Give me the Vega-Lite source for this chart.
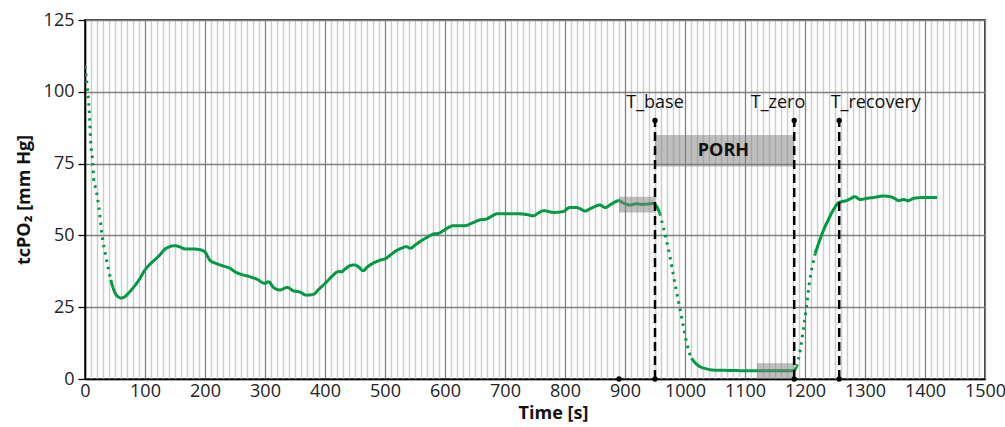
{
  "$schema": "https://vega.github.io/schema/vega-lite/v6.json",
  "autosize": "none",
  "width": 900,
  "height": 359,
  "padding": {"left": 85, "top": 20, "right": 20, "bottom": 48},
  "config": {
    "font": "Open Sans",
    "view": {"stroke": "#000000", "strokeWidth": 1.5},
    "axis": {"labelFont": "Open Sans", "titleFont": "Open Sans"}
  },
  "datasets": {
    "curve": [
      {"t": 0, "v": 109, "seg": "A", "style": "dotted"},
      {"t": 4, "v": 101, "seg": "A", "style": "dotted"},
      {"t": 7, "v": 93.7, "seg": "A", "style": "dotted"},
      {"t": 9.5, "v": 82.6, "seg": "A", "style": "dotted"},
      {"t": 13, "v": 75.2, "seg": "A", "style": "dotted"},
      {"t": 15, "v": 68.5, "seg": "A", "style": "dotted"},
      {"t": 17, "v": 67, "seg": "A", "style": "dotted"},
      {"t": 20.5, "v": 63.5, "seg": "A", "style": "dotted"},
      {"t": 23, "v": 60, "seg": "A", "style": "dotted"},
      {"t": 28, "v": 50.7, "seg": "A", "style": "dotted"},
      {"t": 36, "v": 41.4, "seg": "A", "style": "dotted"},
      {"t": 43, "v": 34.5, "seg": "A", "style": "dotted"},
      {"t": 43, "v": 34.5, "seg": "B", "style": "solid"},
      {"t": 50, "v": 30, "seg": "B", "style": "solid"},
      {"t": 56, "v": 28.5, "seg": "B", "style": "solid"},
      {"t": 61, "v": 28.2, "seg": "B", "style": "solid"},
      {"t": 66, "v": 28.6, "seg": "B", "style": "solid"},
      {"t": 72, "v": 29.8, "seg": "B", "style": "solid"},
      {"t": 80, "v": 31.7, "seg": "B", "style": "solid"},
      {"t": 90, "v": 34.5, "seg": "B", "style": "solid"},
      {"t": 100, "v": 38, "seg": "B", "style": "solid"},
      {"t": 110, "v": 40.3, "seg": "B", "style": "solid"},
      {"t": 122, "v": 42.6, "seg": "B", "style": "solid"},
      {"t": 136, "v": 45.6, "seg": "B", "style": "solid"},
      {"t": 150, "v": 46.4, "seg": "B", "style": "solid"},
      {"t": 158, "v": 46, "seg": "B", "style": "solid"},
      {"t": 167, "v": 45.3, "seg": "B", "style": "solid"},
      {"t": 178, "v": 45.3, "seg": "B", "style": "solid"},
      {"t": 192, "v": 45, "seg": "B", "style": "solid"},
      {"t": 200, "v": 44.2, "seg": "B", "style": "solid"},
      {"t": 208, "v": 41.4, "seg": "B", "style": "solid"},
      {"t": 219, "v": 40.2, "seg": "B", "style": "solid"},
      {"t": 230, "v": 39.4, "seg": "B", "style": "solid"},
      {"t": 242, "v": 38.5, "seg": "B", "style": "solid"},
      {"t": 250, "v": 37.3, "seg": "B", "style": "solid"},
      {"t": 258, "v": 36.6, "seg": "B", "style": "solid"},
      {"t": 275, "v": 35.6, "seg": "B", "style": "solid"},
      {"t": 286, "v": 34.8, "seg": "B", "style": "solid"},
      {"t": 300, "v": 33.3, "seg": "B", "style": "solid"},
      {"t": 306, "v": 33.9, "seg": "B", "style": "solid"},
      {"t": 314, "v": 31.9, "seg": "B", "style": "solid"},
      {"t": 325, "v": 31, "seg": "B", "style": "solid"},
      {"t": 337, "v": 31.9, "seg": "B", "style": "solid"},
      {"t": 347, "v": 30.7, "seg": "B", "style": "solid"},
      {"t": 358, "v": 30.3, "seg": "B", "style": "solid"},
      {"t": 369, "v": 29.2, "seg": "B", "style": "solid"},
      {"t": 380, "v": 29.4, "seg": "B", "style": "solid"},
      {"t": 390, "v": 31.3, "seg": "B", "style": "solid"},
      {"t": 403, "v": 33.9, "seg": "B", "style": "solid"},
      {"t": 412, "v": 35.8, "seg": "B", "style": "solid"},
      {"t": 422, "v": 37.4, "seg": "B", "style": "solid"},
      {"t": 427, "v": 37.3, "seg": "B", "style": "solid"},
      {"t": 433, "v": 38.2, "seg": "B", "style": "solid"},
      {"t": 442, "v": 39.5, "seg": "B", "style": "solid"},
      {"t": 450, "v": 39.7, "seg": "B", "style": "solid"},
      {"t": 456, "v": 39, "seg": "B", "style": "solid"},
      {"t": 464, "v": 37.7, "seg": "B", "style": "solid"},
      {"t": 470, "v": 38.9, "seg": "B", "style": "solid"},
      {"t": 475, "v": 39.7, "seg": "B", "style": "solid"},
      {"t": 484, "v": 40.7, "seg": "B", "style": "solid"},
      {"t": 492, "v": 41.4, "seg": "B", "style": "solid"},
      {"t": 500, "v": 41.8, "seg": "B", "style": "solid"},
      {"t": 510, "v": 43.3, "seg": "B", "style": "solid"},
      {"t": 519, "v": 44.7, "seg": "B", "style": "solid"},
      {"t": 528, "v": 45.6, "seg": "B", "style": "solid"},
      {"t": 536, "v": 46.1, "seg": "B", "style": "solid"},
      {"t": 542, "v": 45.5, "seg": "B", "style": "solid"},
      {"t": 550, "v": 46.6, "seg": "B", "style": "solid"},
      {"t": 558, "v": 47.8, "seg": "B", "style": "solid"},
      {"t": 570, "v": 49.3, "seg": "B", "style": "solid"},
      {"t": 581, "v": 50.5, "seg": "B", "style": "solid"},
      {"t": 589, "v": 50.7, "seg": "B", "style": "solid"},
      {"t": 600, "v": 52, "seg": "B", "style": "solid"},
      {"t": 608, "v": 53, "seg": "B", "style": "solid"},
      {"t": 614, "v": 53.4, "seg": "B", "style": "solid"},
      {"t": 633, "v": 53.4, "seg": "B", "style": "solid"},
      {"t": 645, "v": 54.3, "seg": "B", "style": "solid"},
      {"t": 658, "v": 55.4, "seg": "B", "style": "solid"},
      {"t": 669, "v": 55.7, "seg": "B", "style": "solid"},
      {"t": 678, "v": 56.7, "seg": "B", "style": "solid"},
      {"t": 686, "v": 57.5, "seg": "B", "style": "solid"},
      {"t": 700, "v": 57.5, "seg": "B", "style": "solid"},
      {"t": 725, "v": 57.5, "seg": "B", "style": "solid"},
      {"t": 740, "v": 57.1, "seg": "B", "style": "solid"},
      {"t": 747, "v": 56.8, "seg": "B", "style": "solid"},
      {"t": 755, "v": 57.7, "seg": "B", "style": "solid"},
      {"t": 764, "v": 58.6, "seg": "B", "style": "solid"},
      {"t": 781, "v": 58, "seg": "B", "style": "solid"},
      {"t": 797, "v": 58.3, "seg": "B", "style": "solid"},
      {"t": 808, "v": 59.7, "seg": "B", "style": "solid"},
      {"t": 819, "v": 59.7, "seg": "B", "style": "solid"},
      {"t": 826, "v": 59.2, "seg": "B", "style": "solid"},
      {"t": 833, "v": 58.5, "seg": "B", "style": "solid"},
      {"t": 845, "v": 59.6, "seg": "B", "style": "solid"},
      {"t": 858, "v": 60.6, "seg": "B", "style": "solid"},
      {"t": 867, "v": 59.7, "seg": "B", "style": "solid"},
      {"t": 875, "v": 60.6, "seg": "B", "style": "solid"},
      {"t": 882, "v": 61.5, "seg": "B", "style": "solid"},
      {"t": 889, "v": 62.1, "seg": "B", "style": "solid"},
      {"t": 898, "v": 61.2, "seg": "B", "style": "solid"},
      {"t": 908, "v": 60.6, "seg": "B", "style": "solid"},
      {"t": 919, "v": 61, "seg": "B", "style": "solid"},
      {"t": 930, "v": 60.8, "seg": "B", "style": "solid"},
      {"t": 947, "v": 61.1, "seg": "B", "style": "solid"},
      {"t": 953, "v": 60, "seg": "B", "style": "solid"},
      {"t": 958, "v": 57.7, "seg": "B", "style": "solid"},
      {"t": 958, "v": 57.7, "seg": "C", "style": "dotted"},
      {"t": 963, "v": 53.5, "seg": "C", "style": "dotted"},
      {"t": 969, "v": 48.4, "seg": "C", "style": "dotted"},
      {"t": 975, "v": 42.5, "seg": "C", "style": "dotted"},
      {"t": 980, "v": 36.8, "seg": "C", "style": "dotted"},
      {"t": 986, "v": 30.3, "seg": "C", "style": "dotted"},
      {"t": 992, "v": 24, "seg": "C", "style": "dotted"},
      {"t": 998, "v": 17.5, "seg": "C", "style": "dotted"},
      {"t": 1003, "v": 12.4, "seg": "C", "style": "dotted"},
      {"t": 1007, "v": 9.3, "seg": "C", "style": "dotted"},
      {"t": 1011, "v": 7.2, "seg": "C", "style": "dotted"},
      {"t": 1011, "v": 7.2, "seg": "D", "style": "solid"},
      {"t": 1018, "v": 5.4, "seg": "D", "style": "solid"},
      {"t": 1025, "v": 4.3, "seg": "D", "style": "solid"},
      {"t": 1035, "v": 3.6, "seg": "D", "style": "solid"},
      {"t": 1047, "v": 3.1, "seg": "D", "style": "solid"},
      {"t": 1070, "v": 3, "seg": "D", "style": "solid"},
      {"t": 1100, "v": 2.9, "seg": "D", "style": "solid"},
      {"t": 1119, "v": 2.9, "seg": "D", "style": "solid"},
      {"t": 1150, "v": 2.9, "seg": "D", "style": "solid"},
      {"t": 1181, "v": 2.9, "seg": "D", "style": "solid"},
      {"t": 1186, "v": 4.3, "seg": "D", "style": "solid"},
      {"t": 1186, "v": 4.3, "seg": "E", "style": "dotted"},
      {"t": 1192, "v": 10, "seg": "E", "style": "dotted"},
      {"t": 1197, "v": 17, "seg": "E", "style": "dotted"},
      {"t": 1203, "v": 26, "seg": "E", "style": "dotted"},
      {"t": 1208, "v": 34.5, "seg": "E", "style": "dotted"},
      {"t": 1213, "v": 40, "seg": "E", "style": "dotted"},
      {"t": 1217, "v": 43.7, "seg": "E", "style": "dotted"},
      {"t": 1217, "v": 43.7, "seg": "F", "style": "solid"},
      {"t": 1224, "v": 48, "seg": "F", "style": "solid"},
      {"t": 1231, "v": 51.9, "seg": "F", "style": "solid"},
      {"t": 1239, "v": 55.5, "seg": "F", "style": "solid"},
      {"t": 1247, "v": 58.8, "seg": "F", "style": "solid"},
      {"t": 1252, "v": 60.5, "seg": "F", "style": "solid"},
      {"t": 1256, "v": 61.4, "seg": "F", "style": "solid"},
      {"t": 1262, "v": 61.8, "seg": "F", "style": "solid"},
      {"t": 1269, "v": 62.1, "seg": "F", "style": "solid"},
      {"t": 1276, "v": 62.8, "seg": "F", "style": "solid"},
      {"t": 1283, "v": 63.5, "seg": "F", "style": "solid"},
      {"t": 1292, "v": 62.5, "seg": "F", "style": "solid"},
      {"t": 1303, "v": 62.9, "seg": "F", "style": "solid"},
      {"t": 1314, "v": 63.2, "seg": "F", "style": "solid"},
      {"t": 1331, "v": 63.7, "seg": "F", "style": "solid"},
      {"t": 1342, "v": 63.5, "seg": "F", "style": "solid"},
      {"t": 1350, "v": 62.8, "seg": "F", "style": "solid"},
      {"t": 1356, "v": 62.1, "seg": "F", "style": "solid"},
      {"t": 1364, "v": 62.5, "seg": "F", "style": "solid"},
      {"t": 1372, "v": 62.1, "seg": "F", "style": "solid"},
      {"t": 1381, "v": 62.9, "seg": "F", "style": "solid"},
      {"t": 1397, "v": 63.2, "seg": "F", "style": "solid"},
      {"t": 1420, "v": 63.2, "seg": "F", "style": "solid"}
    ],
    "windows": [
      {"x1": 890, "x2": 950, "y1": 58, "y2": 63.5},
      {"x1": 1120, "x2": 1182, "y1": 0, "y2": 5.5}
    ],
    "porh": [
      {"x1": 950, "x2": 1182, "y1": 74, "y2": 85, "label": "PORH", "xm": 1064, "ym": 79.5}
    ],
    "events": [
      {"t": 950, "y0": 0, "y1": 90, "name": "T_base", "lx": 950},
      {"t": 1182, "y0": 0, "y1": 90, "name": "T_zero", "lx": 1155},
      {"t": 1257, "y0": 0, "y1": 90, "name": "T_recovery", "lx": 1318}
    ],
    "dots": [
      {"t": 890, "v": 0},
      {"t": 950, "v": 0},
      {"t": 1182, "v": 0},
      {"t": 1257, "v": 0},
      {"t": 950, "v": 90},
      {"t": 1182, "v": 90},
      {"t": 1257, "v": 90}
    ]
  },
  "layer": [
    {
      "data": {"name": "curve"},
      "mark": {"type": "line", "strokeWidth": 3, "color": "#009a44", "interpolate": "monotone", "clip": true},
      "encoding": {
        "x": {
          "field": "t", "type": "quantitative",
          "scale": {"domain": [0, 1500], "nice": false, "zero": false},
          "axis": {
            "title": "Time [s]",
            "titleFontSize": 18, "titleFontWeight": "bold", "titleColor": "#111111",
            "titlePadding": 4,
            "titleX": 468,
            "labelFontSize": 18, "labelColor": "#222222", "labelPadding": 3,
            "labelFlush": false,
            "labelOverlap": false,
            "ticks": false,
            "tickCount": 400,
            "domainColor": "#000000", "domainWidth": 1.5,
            "grid": true,
            "gridColor": {"condition": {"test": "datum.value % 100 === 0", "value": "#7f7f7f"}, "value": "#cdcdcd"},
            "gridWidth": {"condition": {"test": "datum.value % 100 === 0", "value": 1.3}, "value": 1.5},
            "values": [0,10,20,30,40,50,60,70,80,90,100,110,120,130,140,150,160,170,180,190,200,210,220,230,240,250,260,270,280,290,300,310,320,330,340,350,360,370,380,390,400,410,420,430,440,450,460,470,480,490,500,510,520,530,540,550,560,570,580,590,600,610,620,630,640,650,660,670,680,690,700,710,720,730,740,750,760,770,780,790,800,810,820,830,840,850,860,870,880,890,900,910,920,930,940,950,960,970,980,990,1000,1010,1020,1030,1040,1050,1060,1070,1080,1090,1100,1110,1120,1130,1140,1150,1160,1170,1180,1190,1200,1210,1220,1230,1240,1250,1260,1270,1280,1290,1300,1310,1320,1330,1340,1350,1360,1370,1380,1390,1400,1410,1420,1430,1440,1450,1460,1470,1480,1490,1500],
            "labelExpr": "datum.value % 100 === 0 ? datum.label : ''",
            "format": "d"
          }
        },
        "y": {
          "field": "v", "type": "quantitative",
          "scale": {"domain": [0, 125], "nice": false},
          "axis": {
            "title": "tcPO₂ [mm Hg]",
            "titleFontSize": 18, "titleFontWeight": "bold", "titleColor": "#111111",
            "titlePadding": 10,
            "labelFontSize": 18, "labelColor": "#222222", "labelPadding": 4,
            "values": [0, 25, 50, 75, 100, 125],
            "tickSize": 7, "tickColor": "#000000", "tickWidth": 1.3,
            "domainColor": "#000000", "domainWidth": 1.5,
            "grid": true, "gridColor": "#7f7f7f", "gridWidth": 1.3
          }
        },
        "detail": {"field": "seg"},
        "strokeDash": {
          "field": "style", "type": "nominal",
          "scale": {"domain": ["solid", "dotted"], "range": [[1, 0], [2.5, 5]]},
          "legend": null
        }
      }
    },
    {
      "data": {"name": "windows"},
      "mark": {"type": "rect", "color": "#808080", "opacity": 0.5},
      "encoding": {
        "x": {"field": "x1", "type": "quantitative"},
        "x2": {"field": "x2"},
        "y": {"field": "y1", "type": "quantitative"},
        "y2": {"field": "y2"}
      }
    },
    {
      "data": {"name": "porh"},
      "mark": {"type": "rect", "color": "#808080", "opacity": 0.5},
      "encoding": {
        "x": {"field": "x1", "type": "quantitative"},
        "x2": {"field": "x2"},
        "y": {"field": "y1", "type": "quantitative"},
        "y2": {"field": "y2"}
      }
    },
    {
      "data": {"name": "porh"},
      "mark": {"type": "text", "fontSize": 18, "fontWeight": "bold", "color": "#111111", "baseline": "middle", "align": "center"},
      "encoding": {
        "x": {"field": "xm", "type": "quantitative"},
        "y": {"field": "ym", "type": "quantitative"},
        "text": {"field": "label"}
      }
    },
    {
      "data": {"name": "events"},
      "mark": {"type": "rule", "color": "#000000", "strokeWidth": 2.5, "strokeDash": [9, 5]},
      "encoding": {
        "x": {"field": "t", "type": "quantitative"},
        "y": {"field": "y0", "type": "quantitative"},
        "y2": {"field": "y1"}
      }
    },
    {
      "data": {"name": "events"},
      "mark": {"type": "text", "fontSize": 18, "color": "#111111", "baseline": "alphabetic", "align": "center"},
      "encoding": {
        "x": {"field": "lx", "type": "quantitative"},
        "y": {"datum": 94.4, "type": "quantitative"},
        "text": {"field": "name"}
      }
    },
    {
      "data": {"name": "dots"},
      "mark": {"type": "point", "filled": true, "color": "#000000", "size": 28, "opacity": 1, "clip": false},
      "encoding": {
        "x": {"field": "t", "type": "quantitative"},
        "y": {"field": "v", "type": "quantitative"}
      }
    }
  ]
}
